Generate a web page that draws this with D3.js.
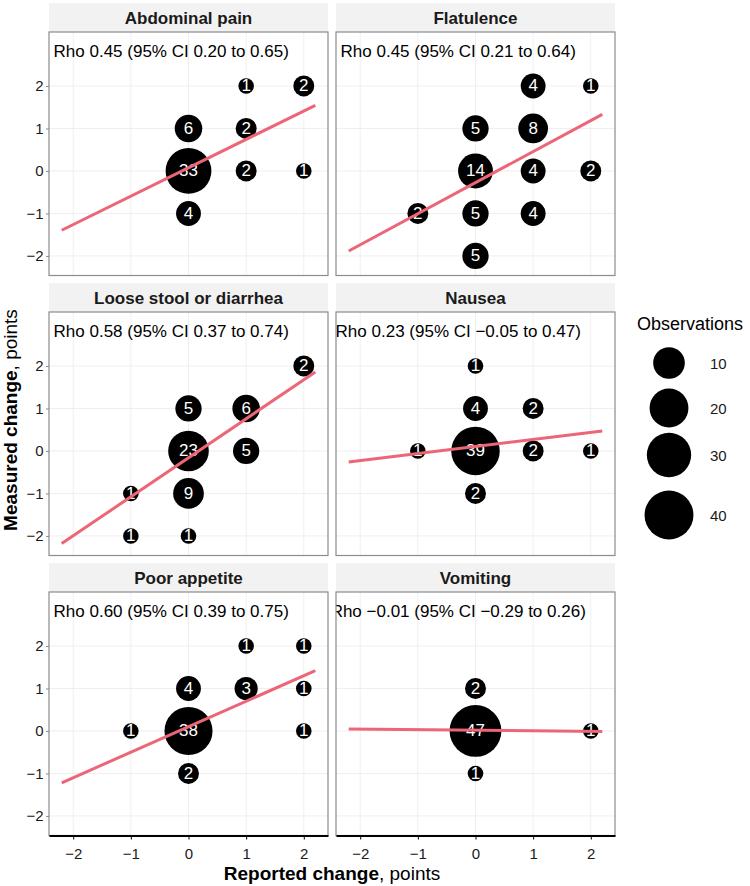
<!DOCTYPE html>
<html>
<head>
<meta charset="utf-8">
<script src="https://cdn.jsdelivr.net/npm/d3@7"></script>
<style>
  html, body { margin: 0; padding: 0; background: #fff; }
  svg { display: block; font-family: "Liberation Sans", Arial, Helvetica, sans-serif; }
</style>
</head>
<body>
<svg id="chart" width="750" height="886"></svg>
<script>
// ---------------- DATA ----------------
const symptoms = ["Abdominal pain", "Flatulence", "Loose stool or diarrhea", "Nausea", "Poor appetite", "Vomiting"];
const rhoLabels = [
  "Rho 0.45 (95% CI 0.20 to 0.65)",
  "Rho 0.45 (95% CI 0.21 to 0.64)",
  "Rho 0.58 (95% CI 0.37 to 0.74)",
  "Rho 0.23 (95% CI \u22120.05 to 0.47)",
  "Rho 0.60 (95% CI 0.39 to 0.75)",
  "Rho \u22120.01 (95% CI \u22120.29 to 0.26)"
];
// [reported change, measured change, observations]
const abdominalPain = [[1,2,1],[2,2,2],[0,1,6],[1,1,2],[0,0,33],[1,0,2],[2,0,1],[0,-1,4]];
const flatulence = [[1,2,4],[2,2,1],[0,1,5],[1,1,8],[0,0,14],[1,0,4],[2,0,2],[-1,-1,2],[0,-1,5],[1,-1,4],[0,-2,5]];
const looseStool = [[2,2,2],[0,1,5],[1,1,6],[0,0,23],[1,0,5],[-1,-1,1],[0,-1,9],[-1,-2,1],[0,-2,1]];
const nausea = [[0,2,1],[0,1,4],[1,1,2],[-1,0,1],[0,0,39],[1,0,2],[2,0,1],[0,-1,2]];
const poorAppetite = [[1,2,1],[2,2,1],[0,1,4],[1,1,3],[2,1,1],[-1,0,1],[0,0,38],[2,0,1],[0,-1,2]];
const vomiting = [[0,1,2],[0,0,47],[2,0,1],[0,-1,1]];
const panelPoints = [abdominalPain, flatulence, looseStool, nausea, poorAppetite, vomiting];
// linear fit per panel
const fitIntercepts = [0.075, -0.275, -0.16, 0.106, 0.10, 0.018];
const fitSlopes = [0.668, 0.731, 0.918, 0.166, 0.60, -0.013];
const fitRange = [-2.2, 2.2];
const axisTicks = [-2, -1, 0, 1, 2];
const legendValues = [10, 20, 30, 40];
const countExtent = [1, 47];

// ---------------- LAYOUT ----------------
const svg = d3.select("#chart");
const FONT = '"Liberation Sans", Arial, Helvetica, sans-serif';
const colX = [49, 336];
const panelW = 279;
const stripTop = [3, 283, 563];
const stripH = 29;
const panelH = 243.5;
const lineColor = "#EC6677";

const x = d3.scaleLinear().domain([-2.42, 2.42]).range([0, panelW]);
const y = d3.scaleLinear().domain([-2.46, 3.27]).range([panelH, 0]);
const tScale = d3.scaleLinear().domain(countExtent).range([0, 1]);
const rSqrt = d3.scaleSqrt().domain([0, 1]).range([7.8, 25.9]);
const r = v => rSqrt(tScale(v));
const fmt = d => (d < 0 ? "\u2212" + Math.abs(d) : String(d));

svg.append("rect").attr("width", 750).attr("height", 886).attr("fill", "#fff");

const defs = svg.append("defs");

symptoms.forEach((name, i) => {
  const col = i % 2, row = Math.floor(i / 2);
  const px = colX[col], sTop = stripTop[row], py = sTop + stripH;

  // strip
  svg.append("rect").attr("x", px).attr("y", sTop).attr("width", panelW).attr("height", stripH)
    .attr("fill", "#f2f2f2");
  svg.append("text").attr("x", px + panelW / 2).attr("y", sTop + stripH / 2 + 1)
    .attr("text-anchor", "middle").attr("dominant-baseline", "central")
    .attr("font-size", 17).attr("font-weight", "bold").attr("fill", "#1a1a1a").text(name);

  const g = svg.append("g").attr("transform", `translate(${px},${py})`);
  defs.append("clipPath").attr("id", "clip" + i).append("rect")
    .attr("width", panelW).attr("height", panelH);

  g.append("rect").attr("width", panelW).attr("height", panelH).attr("fill", "#fff");

  const inner = g.append("g").attr("clip-path", `url(#clip${i})`);
  // grid
  inner.selectAll(".gx").data(axisTicks).join("line")
    .attr("x1", d => x(d)).attr("x2", d => x(d)).attr("y1", 0).attr("y2", panelH)
    .attr("stroke", "#ebebeb").attr("stroke-width", 0.8);
  inner.selectAll(".gy").data(axisTicks).join("line")
    .attr("y1", d => y(d)).attr("y2", d => y(d)).attr("x1", 0).attr("x2", panelW)
    .attr("stroke", "#ebebeb").attr("stroke-width", 0.8);

  const pts = panelPoints[i];
  inner.selectAll("circle.pt").data(pts).join("circle").attr("class", "pt")
    .attr("cx", d => x(d[0])).attr("cy", d => y(d[1])).attr("r", d => r(d[2]))
    .attr("fill", "#000");
  inner.selectAll("text.lbl").data(pts).join("text").attr("class", "lbl")
    .attr("x", d => x(d[0])).attr("y", d => y(d[1]))
    .attr("text-anchor", "middle").attr("dominant-baseline", "central")
    .attr("font-size", 17).attr("fill", "#fff").text(d => d[2]);

  const line = d3.line().x(d => x(d)).y(d => y(fitIntercepts[i] + fitSlopes[i] * d));
  inner.append("path").datum(fitRange).attr("d", line)
    .attr("fill", "none").attr("stroke", lineColor).attr("stroke-width", 3);

  inner.append("text").attr("x", x(-0.3)).attr("y", y(2.8))
    .attr("text-anchor", "middle").attr("dominant-baseline", "central")
    .attr("font-size", 17).attr("fill", "#000").text(rhoLabels[i]);

  // border
  g.append("rect").attr("width", panelW).attr("height", panelH)
    .attr("fill", "none").attr("stroke", "#8c8c8c").attr("stroke-width", 1.2);

  // y axis on left column
  if (col === 0) {
    const ya = g.append("g").call(d3.axisLeft(y).tickValues(axisTicks).tickFormat(fmt)
      .tickSize(3).tickPadding(2.5).tickSizeOuter(0));
    ya.select(".domain").remove();
    ya.selectAll(".tick line").attr("stroke", "#8c8c8c").attr("stroke-width", 1);
    ya.selectAll(".tick text").attr("font-size", 15).attr("font-family", FONT).attr("fill", "#1a1a1a");
  }
  // x axis on bottom row
  if (row === 2) {
    const xa = g.append("g").attr("transform", `translate(0,${panelH})`)
      .call(d3.axisBottom(x).tickValues(axisTicks).tickFormat(fmt)
        .tickSize(4).tickPadding(9).tickSizeOuter(0));
    xa.select(".domain").attr("stroke", "#000").attr("stroke-width", 2);
    xa.selectAll(".tick line").attr("stroke", "#000").attr("stroke-width", 1);
    xa.selectAll(".tick text").attr("font-size", 15).attr("font-family", FONT).attr("fill", "#1a1a1a");
  }
});

// axis titles
const xt = svg.append("text").attr("x", 332).attr("y", 880).attr("text-anchor", "middle")
  .attr("font-size", 19).attr("fill", "#000");
xt.append("tspan").attr("font-weight", "bold").text("Reported change");
xt.append("tspan").text(", points");

const yt = svg.append("text").attr("transform", "translate(17,420) rotate(-90)")
  .attr("text-anchor", "middle").attr("font-size", 19).attr("fill", "#000");
yt.append("tspan").attr("font-weight", "bold").text("Measured change");
yt.append("tspan").text(", points");

// legend
const legY = [363, 408, 455, 515];
const leg = svg.append("g");
leg.append("text").attr("x", 637).attr("y", 324).attr("dominant-baseline", "central")
  .attr("font-size", 18).attr("fill", "#000").text("Observations");
leg.selectAll("circle").data(legendValues).join("circle")
  .attr("cx", 669).attr("cy", (d, k) => legY[k]).attr("r", d => r(d)).attr("fill", "#000");
leg.selectAll("text.ll").data(legendValues).join("text").attr("class", "ll")
  .attr("x", 710).attr("y", (d, k) => legY[k]).attr("dominant-baseline", "central")
  .attr("font-size", 15).attr("fill", "#1a1a1a").text(d => d);
</script>
</body>
</html>
